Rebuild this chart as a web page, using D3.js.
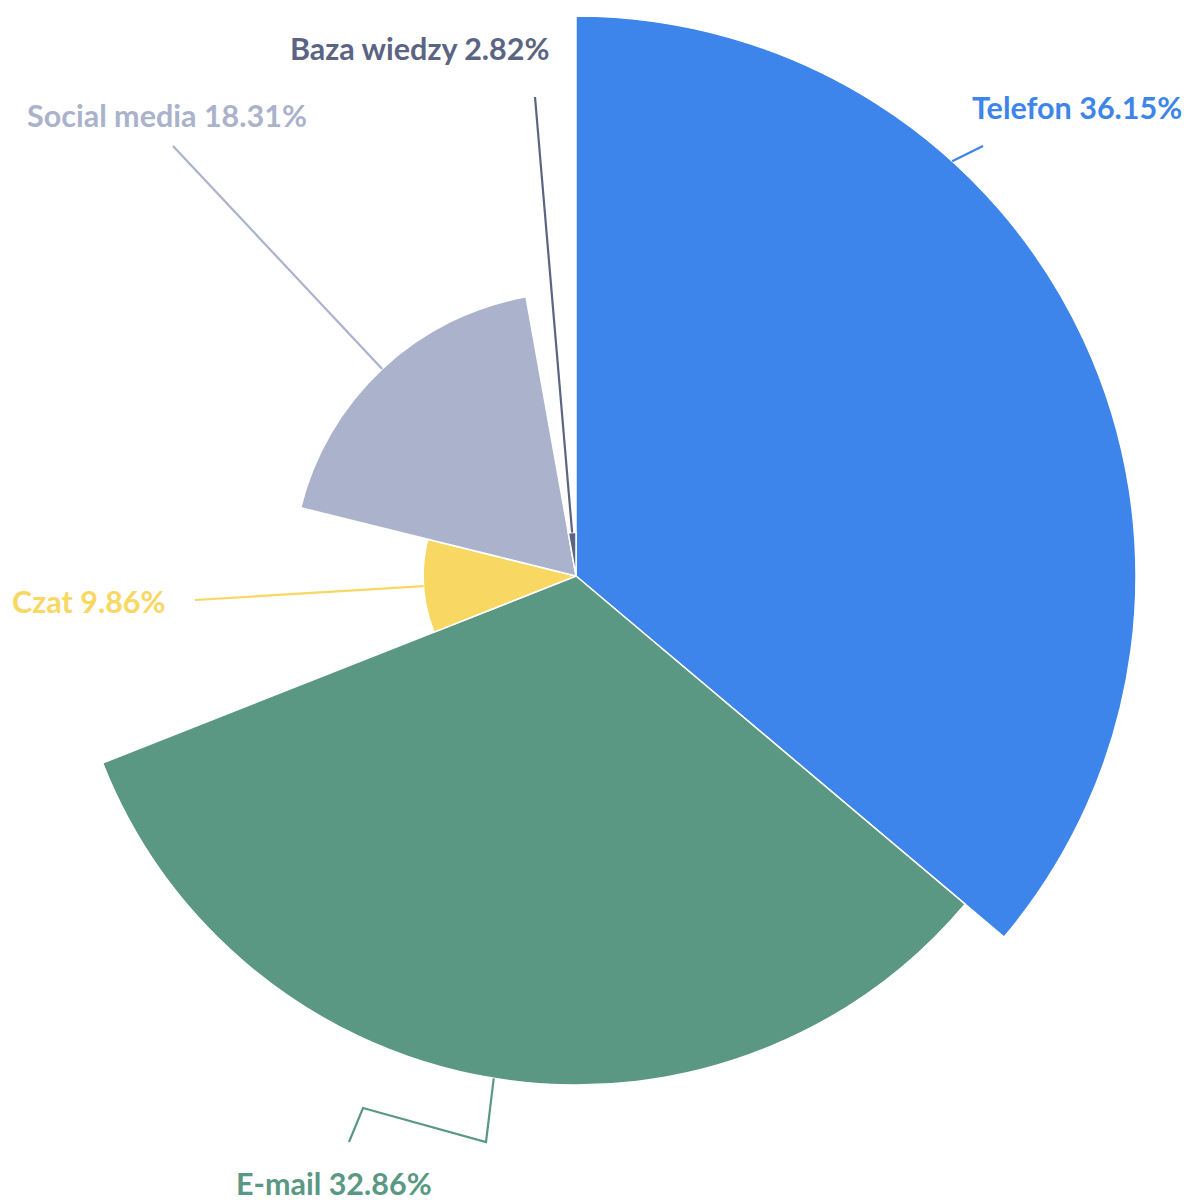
<!DOCTYPE html>
<html>
<head>
<meta charset="utf-8">
<script src="https://cdn.jsdelivr.net/npm/d3@7"></script>
<style>
  html, body { margin: 0; padding: 0; background: #ffffff; }
  svg text { font-family: Lato, "Noto Sans", sans-serif; font-weight: 700; }
</style>
</head>
<body>
<svg id="chart" width="1186" height="1200"></svg>
<script>
// Contact channel shares (percent)
const categories = ["Telefon", "E-mail", "Czat", "Social media", "Baza wiedzy"];
const values = [36.15, 32.86, 9.86, 18.31, 2.82];
const colors = ["#3d85eb", "#5a9884", "#f8d762", "#abb2cc", "#5b6583"];

// Label placement: text anchor point (left, baseline) and leader path
const labelLayout = {
  "Telefon":      { x: 972, y: 119, startAngle: 42.2, points: [[983, 146]] },
  "E-mail":       { x: 236, y: 1195, startAngle: 189.3, points: [[486, 1142], [363, 1108], [349, 1142]] },
  "Czat":         { x: 12,  y: 613, startAngle: null, points: [[195, 600]] },
  "Social media": { x: 27,  y: 127, startAngle: null, points: [[173, 146]] },
  "Baza wiedzy":  { x: 290, y: 60,  startAngle: null, points: [[535, 97]] }
};

const cx = 576, cy = 576, maxRadius = 560;

const data = categories.map((c, i) => ({ name: c, value: values[i], color: colors[i] }));

const svg = d3.select("#chart");
const g = svg.append("g").attr("transform", `translate(${cx},${cy})`);

// Slice radius grows linearly with the value
const rScale = d3.scaleLinear().domain([0, d3.max(values)]).range([0, maxRadius]);

const pie = d3.pie().sort(null).value(d => d.value);
const arcs = pie(data);

const arc = d3.arc()
  .innerRadius(0)
  .outerRadius(d => rScale(d.data.value));

g.selectAll("path.slice")
  .data(arcs)
  .join("path")
  .attr("class", "slice")
  .attr("d", arc)
  .attr("fill", d => d.data.color)
  .attr("stroke", "#ffffff")
  .attr("stroke-width", 1.5)
  .attr("stroke-linejoin", "round");

// Point on the outer edge of a slice at a given angle (radians, clockwise from top)
function edgePoint(angle, radius) {
  return [cx + Math.sin(angle) * radius, cy - Math.cos(angle) * radius];
}

const line = d3.line();

arcs.forEach(d => {
  const lay = labelLayout[d.data.name];
  const ang = lay.startAngle == null ? (d.startAngle + d.endAngle) / 2 : lay.startAngle * Math.PI / 180;
  const start = edgePoint(ang, rScale(d.data.value));
  svg.append("path")
    .attr("d", line([start, ...lay.points]))
    .attr("fill", "none")
    .attr("stroke", d.data.color)
    .attr("stroke-width", 2.2);

  svg.append("text")
    .attr("x", lay.x)
    .attr("y", lay.y)
    .attr("fill", d.data.color)
    .attr("font-size", 30.5)
    .text(`${d.data.name} ${d3.format(".2f")(d.data.value)}%`);
});
</script>
</body>
</html>
